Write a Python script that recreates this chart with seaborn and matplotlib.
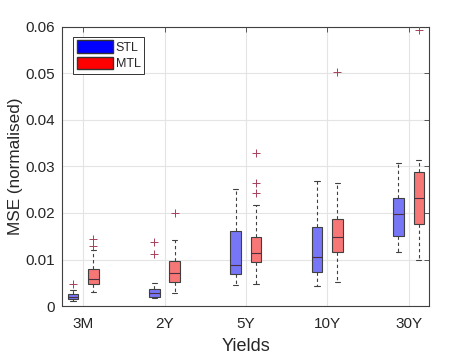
import numpy as np
import pandas as pd
import matplotlib
matplotlib.use("Agg")
import matplotlib.pyplot as plt
from matplotlib.patches import Patch
import seaborn as sns

# ---- data ----
yields = ["3M", "2Y", "5Y", "10Y", "30Y"]
models = ["STL", "MTL"]

# five-number summaries: lower whisker, Q1, median, Q3, upper whisker
stl_lo  = [0.0011, 0.0017, 0.0045, 0.0042, 0.0116]
stl_q1  = [0.0015, 0.0019, 0.0068, 0.0074, 0.0151]
stl_med = [0.0020, 0.0027, 0.0088, 0.0105, 0.0197]
stl_q3  = [0.0025, 0.0036, 0.0161, 0.0170, 0.0232]
stl_hi  = [0.0034, 0.0050, 0.0251, 0.0269, 0.0307]

mtl_lo  = [0.0031, 0.0029, 0.0047, 0.0052, 0.0098]
mtl_q1  = [0.0047, 0.0051, 0.0094, 0.0116, 0.0176]
mtl_med = [0.0058, 0.0070, 0.0113, 0.0148, 0.0232]
mtl_q3  = [0.0080, 0.0097, 0.0149, 0.0188, 0.0288]
mtl_hi  = [0.0120, 0.0143, 0.0217, 0.0265, 0.0315]

# outliers
out_yield = ["3M", "3M", "3M", "2Y", "2Y", "2Y", "5Y", "5Y", "5Y", "10Y", "30Y"]
out_model = ["STL", "MTL", "MTL", "STL", "STL", "MTL", "MTL", "MTL", "MTL", "MTL", "MTL"]
out_value = [0.0047, 0.0144, 0.0130, 0.0138, 0.0111, 0.0201, 0.0328, 0.0264, 0.0244, 0.0503, 0.0594]

yticks = [0, 0.01, 0.02, 0.03, 0.04, 0.05, 0.06]
ytick_labels = ["0", "0.01", "0.02", "0.03", "0.04", "0.05", "0.06"]

# ---- build long-form table ----
rows = []
for m, parts in (("STL", (stl_lo, stl_q1, stl_med, stl_q3, stl_hi)),
                 ("MTL", (mtl_lo, mtl_q1, mtl_med, mtl_q3, mtl_hi))):
    for i, y in enumerate(yields):
        for p in parts:
            rows.append({"Yield": y, "Model": m, "MSE": p[i]})
df = pd.DataFrame(rows)

sns.set_theme(style="whitegrid")
plt.rcParams["font.family"] = ["Liberation Sans", "DejaVu Sans"]

fig = plt.figure(figsize=(4.74, 3.55), dpi=100)
ax = fig.add_axes([0.131, 0.138, 0.774, 0.786])

box_w = 0.5
palette = {"STL": "#7676f6", "MTL": "#f77777"}
sns.boxplot(data=df, x="Yield", y="MSE", hue="Model", order=yields,
            hue_order=models, palette=palette, saturation=1, width=box_w,
            gap=0.48, whis=(0, 100), showfliers=False, linewidth=0.8,
            linecolor="#404040", legend=False,
            whiskerprops={"linestyle": (0, (3, 2.5)), "color": "#404040"},
            medianprops={"color": "#4a3040", "linewidth": 0.8},
            ax=ax)

# outliers at dodged positions
offs = {"STL": -box_w / 4, "MTL": box_w / 4}
ox = [yields.index(y) + offs[m] for y, m in zip(out_yield, out_model)]
ax.scatter(ox, out_value, marker="+", s=30, color="#a8405a", linewidths=0.7, zorder=5)

ax.set_xlim(-0.26, 4.25)
ax.set_ylim(0, 0.06)
ax.set_yticks(yticks)
ax.set_yticklabels(ytick_labels)
ax.set_xlabel("Yields", fontsize=13, color="#262626", labelpad=5)
ax.set_ylabel("MSE (normalised)", fontsize=12.3, color="#262626", labelpad=2)

ax.grid(True, color="#e4e4e4", linewidth=0.8)
ax.set_axisbelow(True)
for s in ax.spines.values():
    s.set_visible(True)
    s.set_color("#404040")
    s.set_linewidth(0.8)
ax.tick_params(direction="in", top=True, right=True, length=3.5, width=0.6,
               color="#404040", labelsize=11, labelcolor="#262626")
ax.tick_params(axis="x", pad=8)
ax.tick_params(axis="y", pad=5)

handles = [Patch(facecolor="#0000ff", edgecolor="#333333", label="STL"),
           Patch(facecolor="#ff0000", edgecolor="#333333", label="MTL")]
leg = ax.legend(handles=handles, loc="upper left", bbox_to_anchor=(0.03, 0.965),
                fontsize=9, frameon=True, fancybox=False, edgecolor="#333333",
                framealpha=1, handlelength=2.9, handleheight=1.15,
                handletextpad=0.2, labelspacing=0.22, borderpad=0.3,
                borderaxespad=0)
leg.get_frame().set_linewidth(0.7)

fig.savefig("out.png", dpi=100)
